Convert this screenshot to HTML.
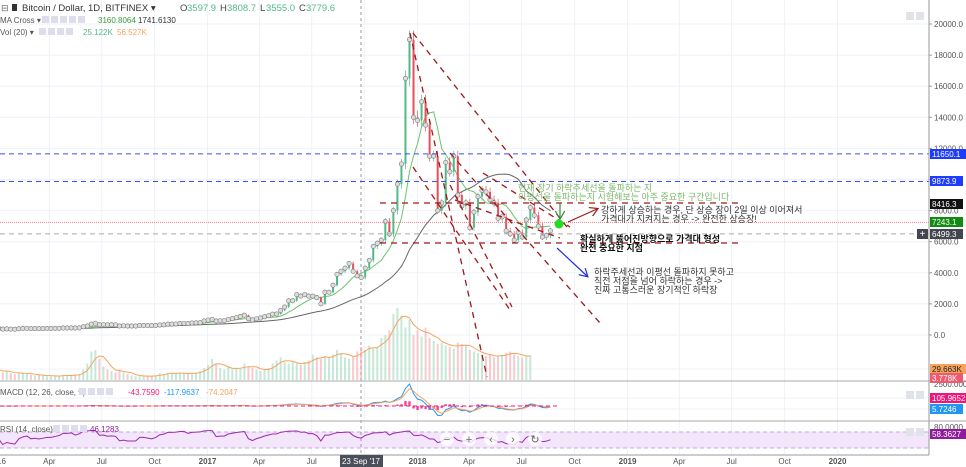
<!DOCTYPE html>
<html><head><meta charset="utf-8">
<style>
html,body{margin:0;padding:0;background:#fff;width:966px;height:467px;overflow:hidden;font-family:"Liberation Sans","Noto Sans CJK KR",sans-serif;}
svg text{font-family:"Liberation Sans","Noto Sans CJK KR",sans-serif;}
</style></head>
<body>
<svg id="chart" width="966" height="467" viewBox="0 0 966 467" xmlns="http://www.w3.org/2000/svg">
<g id="grid"></g>
<g id="vol"></g>
<g id="price"></g>
<g id="draw"></g>
<g id="macd"></g>
<g id="rsi"></g>
<g id="axes"></g>
</svg>
<script>
// weekly closes Jan 2016 - Aug 2018
const closes2016=[430,380,390,380,370,400,420,430,410,415,410,415,420,420,425,430,450,450,455,450,460,530,580,700,750,660,670,650,660,655,580,590,575,575,575,610,610,605,600,610,640,650,700,700,710,740,750,740,770,780,790,900,960];
const closes2017=[1000,900,920,920,1000,1050,1120,1190,1270,1050,970,1040,1090,1170,1240,1340,1350,1580,1800,2200,2200,2600,2500,2600,2500,2500,2400,2000,2750,2750,3200,3900,4100,4300,4600,4100,3800,3700,4300,4800,5700,5900,6100,7300,6500,8000,9700,11000,16500,19000,14000,13800];
const closes2018=[15000,13500,11500,11500,8000,8500,11100,10500,11500,9000,8300,8500,6900,7900,8900,9300,9200,8700,8500,7500,7600,6700,6500,6100,6600,6300,7400,8200,7700,7000,6300,6400,6700];
const volumes=[14,10,12,9,8,9,10,8,7,6,7,6,5,5,6,5,7,6,6,7,8,14,22,38,40,28,18,14,12,10,14,10,8,6,5,5,6,5,5,6,9,8,10,9,8,10,9,8,9,10,12,16,20,28,22,16,14,18,14,16,15,22,18,16,14,12,14,16,22,26,30,24,22,24,22,20,24,26,34,30,28,32,30,34,40,36,30,28,32,38,44,40,46,42,44,56,60,66,88,96,86,70,80,60,66,58,70,56,52,48,50,46,44,42,50,48,46,40,38,36,34,32,34,30,32,34,36,38,34,32,30,32,33];
const priceTicks=[0,2000,4000,6000,8000,10000,12000,14000,16000,18000,20000];
const timeTicks=[["16",0],["Apr",91],["Jul",182],["Oct",274],["2017",366],["Apr",456],["Jul",547],["Oct",639],["2018",731],["Apr",821],["Jul",912],["Oct",1004],["2019",1096],["Apr",1186],["Jul",1277],["Oct",1369],["2020",1461]];
const hLevels=[[11650.1,"#3a4cff","11650.1"],[9873.9,"#3a4cff","9873.9"]];

const closes=closes2016.concat(closes2017,closes2018);
const NS="http://www.w3.org/2000/svg";
const PR=929;
const xd=d=>-3+d*0.5753;
const xi=i=>xd(i*7+3);
const yp=p=>335-p*0.01555;
function el(t,a,p){const e=document.createElementNS(NS,t);for(const k in a)e.setAttribute(k,a[k]);(p||document.getElementById('chart')).appendChild(e);return e;}
function tx(p,x,y,s,o){const e=el('text',Object.assign({x:x,y:y,'font-size':8,fill:'#555'},o||{}),p);e.textContent=s;return e;}
const G=document.getElementById('grid'),V=document.getElementById('vol'),P=document.getElementById('price'),D=document.getElementById('draw'),M=document.getElementById('macd'),R=document.getElementById('rsi'),A=document.getElementById('axes');

priceTicks.forEach(t=>{const l=el('line',{x1:0,x2:PR,y1:yp(t),y2:yp(t),stroke:'#eef2f7'},G);});
[369,398,409,432,448].forEach(y=>el('line',{x1:0,x2:PR,y1:y,y2:y,stroke:'#f0f3f8'},G));
timeTicks.forEach(t=>{const l=el('line',{x1:xd(t[1]),x2:xd(t[1]),y1:0,y2:455,stroke:'#eef2f7'},G);});
el('rect',{x:0,y:432,width:PR,height:16,fill:'#f3e6fb'},G);
el('line',{x1:0,x2:PR,y1:432,y2:432,stroke:'#c9a7d9','stroke-dasharray':'4,3'},G);
el('line',{x1:0,x2:PR,y1:448,y2:448,stroke:'#c9a7d9','stroke-dasharray':'4,3'},G);
el('line',{x1:361,x2:361,y1:0,y2:455,stroke:'#999','stroke-dasharray':'3,3'},G);

volumes.forEach((v,i)=>{const up=i==0||closes[i]>=closes[i-1];const b=el('rect',{x:xi(i)-1,y:380-v*0.75,width:2,height:v*0.75,fill:up?'#9fd9bd':'#f4a7ae',opacity:0.6},V);});
function sma(a,n){return a.map((v,i)=>{const s=a.slice(Math.max(0,i-n+1),i+1);return s.reduce((x,y)=>x+y,0)/s.length;});}
el('polyline',{points:sma(volumes,4).map((v,i)=>xi(i)+','+(380-v*0.75)).join(' '),fill:'none',stroke:'#f7a35c','stroke-width':1},V);

el('polyline',{points:sma(closes,29).map((v,i)=>xi(i)+','+yp(v)).join(' '),fill:'none',stroke:'#666','stroke-width':1},P);
el('polyline',{points:sma(closes,8).map((v,i)=>xi(i)+','+yp(v)).join(' '),fill:'none',stroke:'#6cc46c','stroke-width':1},P);
closes.forEach((c,i)=>{const o=i?closes[i-1]:c;const up=c>=o;const col=up?'#53b987':'#eb4d5c';
 const hi=Math.max(o,c)*1.03,lo=Math.min(o,c)*0.97;
 el('line',{x1:xi(i),x2:xi(i),y1:yp(hi),y2:yp(lo),stroke:col,'stroke-width':0.7},P);
 const b=el('rect',{x:xi(i)-1,y:yp(Math.max(o,c)),width:2,height:Math.max(1,Math.abs(yp(o)-yp(c))),fill:col},P);
 
 el('circle',{cx:xi(i),cy:yp(c),r:2.2,fill:'#ddd',stroke:'#777','stroke-width':0.6},P);
});

hLevels.forEach(h=>el('line',{x1:0,x2:PR,y1:yp(h[0]),y2:yp(h[0]),stroke:h[1],'stroke-dasharray':'5,4'},D));
el('line',{x1:0,x2:PR,y1:yp(6499.3),y2:yp(6499.3),stroke:'#aaa','stroke-dasharray':'5,4'},D);
el('line',{x1:0,x2:PR,y1:yp(7243.1),y2:yp(7243.1),stroke:'#f08080','stroke-dasharray':'1,1'},D);
const dr='#a01818';
[[380,203,740,203],[380,243,740,243],[410,33,487,377],[413,33,567,227],[413,167,510,310],[450,153,600,323],[483,173,570,227],[450,185,512,307],[455,200,560,238]].forEach(l=>{const e=el('line',{x1:l[0],y1:l[1],x2:l[2],y2:l[3],stroke:dr,'stroke-width':1.3,'stroke-dasharray':'6,5'},D);});
el('defs',{},D).innerHTML='<marker id="mr" markerWidth="8" markerHeight="8" refX="6" refY="4" orient="auto"><path d="M0,0 L7,4 L0,8" fill="none" stroke="context-stroke"/></marker>';
el('line',{x1:560,y1:203,x2:560,y2:218,stroke:'#3a8a3a','stroke-width':1.2,'marker-end':'url(#mr)'},D);
el('line',{x1:568,y1:222,x2:597,y2:209,stroke:'#a01818','stroke-width':1.2,'marker-end':'url(#mr)'},D);
el('line',{x1:557,y1:248,x2:587,y2:276,stroke:'#1f2fe0','stroke-width':1.2,'marker-end':'url(#mr)'},D);
el('circle',{cx:559,cy:224,r:4.5,fill:'#22dd22'},D);
const gt={fill:'#7bb86b','font-size':9};
tx(D,518,191,'현재 장기 하락추세선을 돌파하는 지',gt);
tx(D,518,200,'이평선을 돌파하는지 시험해보는 아주 중요한 구간입니다',gt);
tx(D,601,213,'강하게 상승하는 경우, 단 상승 장이 2일 이상 이어져서',{fill:'#333','font-size':9});
tx(D,601,222,'가격대가 지켜지는 경우 -> 완전한 상승장!',{fill:'#333','font-size':9});
tx(D,580,242,'확실하게 뚫어진방향으로 가격대 형성',{fill:'#111','font-size':9,'font-weight':'bold'});
tx(D,580,251,'완전 중요한 지점',{fill:'#111','font-size':9,'font-weight':'bold'});
tx(D,594,275,'하락주세선과 이평선 돌파하지 못하고',{fill:'#333','font-size':9});
tx(D,594,284,'직전 저점을 넘어 하락하는 경우 ->',{fill:'#333','font-size':9});
tx(D,594,293,'진짜 고통스러운 장기적인 하락장',{fill:'#333','font-size':9});

function ema(a,n){const k=2/(n+1);let r=[];a.forEach((v,i)=>r.push(i?v*k+r[i-1]*(1-k):v));return r;}
const e12=ema(closes,3),e26=ema(closes,6),mline=e12.map((v,i)=>v-e26[i]),sig=ema(mline,3);
const ym=v=>406-v*0.0075;
mline.forEach((v,i)=>{const h=v-sig[i];el('rect',{x:xi(i)-1.2,y:Math.min(ym(h),406),width:2.4,height:Math.abs(ym(h)-406),fill:'#f0157a',opacity:0.8},M);});
el('polyline',{points:mline.map((v,i)=>xi(i)+','+ym(v)).join(' '),fill:'none',stroke:'#2196f3','stroke-width':1},M);
el('polyline',{points:sig.map((v,i)=>xi(i)+','+ym(v)).join(' '),fill:'none',stroke:'#f7a35c','stroke-width':1},M);
el('line',{x1:0,x2:560,y1:406,y2:406,stroke:'#f0157a','stroke-dasharray':'4,3'},M);
let rs=[50];let ag=1,al=1;for(let i=1;i<closes.length;i++){const d=(closes[i]-closes[i-1])/closes[i-1];ag=(ag*4+Math.max(d,0)*100)/5;al=(al*4+Math.max(-d,0)*100)/5;rs.push(100-100/(1+ag/(al||0.01)));}
el('polyline',{points:rs.map((v,i)=>xi(i)+','+(460-0.4*(52+(v-50)*0.45))).join(' '),fill:'none',stroke:'#9c27b0','stroke-width':1},R);
['−','+','‹','›','↻'].forEach((s,i)=>{el('circle',{cx:447+i*22,cy:439,r:7,fill:'#fff',opacity:0.8},R);tx(R,447+i*22,443,s,{'font-size':11,fill:'#666','text-anchor':'middle'});});

el('line',{x1:PR,x2:PR,y1:0,y2:455,stroke:'#999'},A);
el('line',{x1:0,x2:966,y1:381,y2:381,stroke:'#aaa'},A);
el('line',{x1:0,x2:966,y1:421,y2:421,stroke:'#aaa'},A);
el('line',{x1:0,x2:PR,y1:455,y2:455,stroke:'#999'},A);
priceTicks.forEach(t=>{el('line',{x1:PR,x2:PR+3,y1:yp(t),y2:yp(t),stroke:'#999'},A);const l=tx(A,PR+5,yp(t)+3,t.toFixed(1));});
tx(A,PR+5,387,'2500.0000');tx(A,PR+5,430,'80.0000');
timeTicks.forEach(t=>{const l=tx(A,xd(t[1]),464,t[0],{'text-anchor':t[1]?'middle':'start','font-size':8,fill:'#555','font-weight':t[0].length==4?'bold':'normal'});});
el('rect',{x:340,y:455,width:43,height:12,fill:'#4a4f5a'},A);tx(A,361,464,"23 Sep '17",{fill:'#fff','text-anchor':'middle','font-size':8});
[['#1e3cff','11650.1',154],['#1e3cff','9873.9',181],['#111','8416.3',204],['#138a13','7243.1',222],['#434651','6499.3',234],['#f7a35c','29.663K',369],['#ef5a6f','3.778K',378],['#f0157a','105.9652',398],['#2196f3','5.7246',409],['#8e1d9c','58.3627',434]].forEach(b=>{const r=el('rect',{x:PR+1,y:b[2]-5,width:b[1].length*5+3,height:10,fill:b[0]},A);tx(A,PR+3,b[2]+3,b[1],{fill:b[0]=='#f7a35c'?'#222':'#fff','font-size':8});});
el('rect',{x:917,y:229,width:11,height:10,fill:'#434651'},A);tx(A,922.5,237,'+',{fill:'#fff','text-anchor':'middle','font-size':10});

const H=el('g',{});
tx(H,1,11,'⊟',{'font-size':9,fill:'#666'});el('rect',{x:12,y:4,width:5,height:7,fill:'#333'},H);
tx(H,22,11,'Bitcoin / Dollar, 1D, BITFINEX ▾',{'font-size':9.5,fill:'#333'});
tx(H,180,11,'O',{'font-size':9.5,fill:'#444'});tx(H,187,11,'3597.9',{'font-size':9.5,fill:'#53b987'});
tx(H,220,11,'H',{'font-size':9.5,fill:'#444'});tx(H,227,11,'3808.7',{'font-size':9.5,fill:'#53b987'});
tx(H,260,11,'L',{'font-size':9.5,fill:'#444'});tx(H,266,11,'3555.0',{'font-size':9.5,fill:'#53b987'});
tx(H,299,11,'C',{'font-size':9.5,fill:'#444'});tx(H,306,11,'3779.6',{'font-size':9.5,fill:'#53b987'});
tx(H,0,23,'MA Cross ▾',{'font-size':8,fill:'#555'});for(let i=0;i<5;i++)el('rect',{x:42+i*9,y:16,width:7,height:7,fill:'#dde'},H);
tx(H,98,23,'3160.8064',{'font-size':8,fill:'#3a9a3a'});tx(H,138,23,'1741.6130',{'font-size':8,fill:'#333'});
tx(H,0,35,'Vol (20) ▾',{'font-size':8,fill:'#555'});for(let i=0;i<4;i++)el('rect',{x:39+i*9,y:28,width:7,height:7,fill:'#dde'},H);
tx(H,83,35,'25.122K',{'font-size':8,fill:'#53b987'});tx(H,117,35,'56.527K',{'font-size':8,fill:'#f7a35c'});
tx(H,0,395,'MACD (12, 26, close, 9) ▾',{'font-size':8,fill:'#555'});for(let i=0;i<4;i++)el('rect',{x:79+i*9,y:388,width:7,height:7,fill:'#dde'},H);
tx(H,128,395,'-43.7590',{'font-size':8,fill:'#f0157a'});tx(H,164,395,'-117.9637',{'font-size':8,fill:'#2196f3'});tx(H,206,395,'-74.2047',{'font-size':8,fill:'#f7a35c'});
tx(H,0,432,'RSI (14, close) ▾',{'font-size':8,fill:'#555'});for(let i=0;i<4;i++)el('rect',{x:53+i*9,y:425,width:7,height:7,fill:'#dde'},H);
tx(H,90,432,'46.1283',{'font-size':8,fill:'#8e1d9c'});
[[906,12],[906,391],[906,428]].forEach(p=>{el('rect',{x:p[0],y:p[1],width:8,height:8,fill:'#e0e3e8'},H);el('rect',{x:p[0]+10,y:p[1],width:8,height:8,fill:'#e0e3e8'},H);});
</script>
</body></html>
